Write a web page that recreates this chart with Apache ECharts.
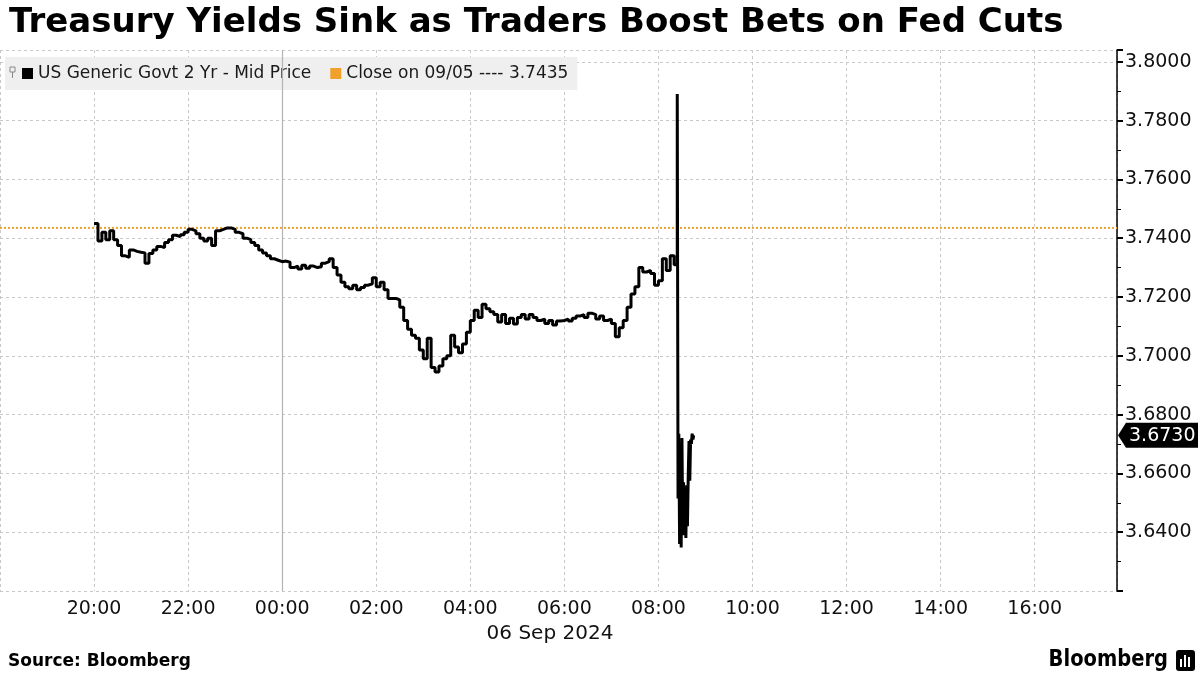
<!DOCTYPE html>
<html><head><meta charset="utf-8">
<script src="https://cdn.jsdelivr.net/npm/echarts@6/dist/echarts.min.js"></script>
<style>html,body{margin:0;padding:0;background:#fff}#c{width:1200px;height:675px}</style>
</head><body><div id="c"></div>
<script>
// ---- data ----
const titleText = 'Treasury Yields Sink as Traders Boost Bets on Fed Cuts';
const seriesName = 'US Generic Govt 2 Yr - Mid Price';
const closeName = 'Close on 09/05 ---- 3.7435';
const closeValue = 3.7435;
const dateLabel = '06 Sep 2024';
const sourceText = 'Source: Bloomberg';
const startClock = 20 * 60;           // axis minutes are counted from 20:00 on 05 Sep
const xMin = -120, xMax = 1305, xInterval = 120;
const yMin = 3.62, yMax = 3.804, yInterval = 0.02;
// 5-minute samples from 20:00 to 08:20
const mainValues = [
 3.7450,3.7390,3.7420,3.7395,3.7425,3.7395,3.7375,3.7340,3.7335,3.7360,
 3.7355,3.7352,3.7350,3.7315,3.7348,3.7360,3.7372,3.7368,3.7385,3.7395,
 3.7410,3.7405,3.7412,3.7420,3.7430,3.7425,3.7415,3.7400,3.7390,3.7400,
 3.7375,3.7425,3.7430,3.7435,3.7435,3.7430,3.7420,3.7415,3.7400,3.7395,
 3.7385,3.7375,3.7360,3.7350,3.7340,3.7330,3.7325,3.7320,3.7322,3.7318,
 3.7300,3.7305,3.7295,3.7308,3.7298,3.7305,3.7300,3.7303,3.7315,3.7320,
 3.7330,3.7300,3.7275,3.7250,3.7235,3.7228,3.7240,3.7225,3.7232,3.7240,
 3.7245,3.7265,3.7235,3.7250,3.7225,3.7195,3.7195,3.7190,3.7165,3.7120,
 3.7090,3.7070,3.7060,3.7020,3.6990,3.7060,3.6960,3.6945,3.6965,3.6990,
 3.7000,3.7070,3.7030,3.7010,3.7040,3.7080,3.7120,3.7155,3.7130,3.7175,
 3.7160,3.7150,3.7140,3.7115,3.7140,3.7110,3.7128,3.7108,3.7130,3.7140,
 3.7125,3.7140,3.7130,3.7120,3.7125,3.7110,3.7120,3.7105,3.7118,3.7120,
 3.7125,3.7118,3.7128,3.7135,3.7140,3.7130,3.7145,3.7140,3.7125,3.7135,
 3.7120,3.7125,3.7110,3.7065,3.7095,3.7120,3.7165,3.7210,3.7235,3.7300,
 3.7285,3.7290,3.7280,3.7240,3.7255,3.7330,3.7290,3.7340,3.7310
];
const mainStep = 5;
// minute-by-minute around the payrolls release
const spikeMinutes = [744,745,746,747,748,749,750,751,752,753,754,755,756,757,758,759,760,761,762,763,764,765];
const spikeValues  = [3.7890,3.6515,3.6735,3.6360,3.6700,3.6348,3.6720,3.6400,3.6570,3.6390,3.6550,3.6380,3.6560,3.6420,3.6590,3.6710,3.6575,3.6715,3.6700,3.6735,3.6715,3.6730];
const midnight = 240;

// ---- build ----
const lineData = mainValues.map((v, i) => [i * mainStep, v])
  .concat(spikeValues.map((v, i) => [spikeMinutes[i], v]));
const lastValue = spikeValues[spikeValues.length - 1];

const FONT = "'DejaVu Sans', Verdana, sans-serif";

function clock(m) {
  let t = ((startClock + m) % 1440 + 1440) % 1440;
  const h = Math.floor(t / 60), mm = Math.round(t % 60);
  return String(h).padStart(2, '0') + ':' + String(mm).padStart(2, '0');
}

const chart = echarts.init(document.getElementById('c'), null, {renderer: 'canvas'});
const baseGraphic = [
  {type: 'text', style: {x: 550, y: 634, text: dateLabel, font: "20px " + FONT, fill: '#111',
                         textAlign: 'center', textVerticalAlign: 'middle'}},
  {type: 'text', style: {x: 8, y: 662, text: sourceText, font: "bold 17px " + FONT, fill: '#000',
                         textVerticalAlign: 'middle'}},
  {type: 'text', x: 1168, y: 660, scaleY: 1.2,
   style: {x: 0, y: 0, text: 'Bloomberg', font: "bold 19.5px " + FONT, fill: '#000',
           textAlign: 'right', textVerticalAlign: 'middle'}},
  {type: 'rect', shape: {x: 1176, y: 650, width: 19, height: 21, r: 3}, style: {fill: '#000'}},
  {type: 'rect', shape: {x: 1180, y: 659, width: 2, height: 8}, style: {fill: '#fff'}},
  {type: 'rect', shape: {x: 1184, y: 655, width: 2, height: 12}, style: {fill: '#fff'}},
  {type: 'rect', shape: {x: 1188, y: 657, width: 2, height: 10}, style: {fill: '#fff'}},
  // small glyph at the start of the legend
  {type: 'rect', z: 100, shape: {x: 10, y: 67, width: 5, height: 5}, style: {fill: 'none', stroke: '#888', lineWidth: 1}},
  {type: 'line', z: 100, shape: {x1: 12.5, y1: 72, x2: 12.5, y2: 78}, style: {stroke: '#888', lineWidth: 1}}
];
const option = {
  animation: false,
  backgroundColor: '#fff',
  grid: {left: 0, right: 83, top: 50, bottom: 84, containLabel: false, outerBoundsMode: 'none'},
  title: {
    text: titleText, left: 4, top: 1,
    textStyle: {fontFamily: FONT, fontWeight: 'bold', fontSize: 34, color: '#000'}
  },
  legend: {
    left: 5, top: 57, padding: [8, 9, 8, 17], backgroundColor: '#efefef',
    itemWidth: 11, itemHeight: 11, itemGap: 19, icon: 'rect',
    textStyle: {fontFamily: FONT, fontSize: 17, color: '#1a1a1a'},
    data: [seriesName, closeName]
  },
  xAxis: {
    type: 'value', min: xMin, max: xMax, interval: xInterval,
    axisLine: {show: false}, axisTick: {show: false},
    axisLabel: {
      showMinLabel: false, showMaxLabel: false, margin: 9,
      fontFamily: FONT, fontSize: 19, color: '#111',
      formatter: v => clock(v)
    },
    splitLine: {show: true, lineStyle: {color: '#c8c8c8', type: [3, 3], width: 1}}
  },
  yAxis: {
    type: 'value', position: 'right', min: yMin, max: yMax, interval: yInterval,
    axisLine: {show: true, onZero: false, lineStyle: {color: '#000', width: 1.5}},
    axisTick: {show: true, length: 6, lineStyle: {color: '#000', width: 2}},
    minorTick: {show: true, splitNumber: 2, length: 4, lineStyle: {color: '#000', width: 1}},
    axisLabel: {
      showMinLabel: false, showMaxLabel: false, margin: 8, fontFamily: FONT, fontSize: 19, color: '#111',
      formatter: v => v.toFixed(4)
    },
    splitLine: {show: true, lineStyle: {color: '#c8c8c8', type: [3, 3], width: 1}}
  },
  series: [
    {
      name: seriesName, type: 'line', step: 'end', data: lineData,
      symbol: 'none', color: '#000', z: 5,
      lineStyle: {color: '#000', width: 3},
      markLine: {
        silent: true, symbol: ['none', 'none'],
        data: [
          {xAxis: midnight, lineStyle: {color: '#b4b4b4', type: 'solid', width: 1.2}, label: {show: false}}
        ]
      }
    },
    {
      name: closeName, type: 'line', data: [[xMin, closeValue], [xMax, closeValue]],
      symbol: 'none', color: '#f0a12c', z: 3,
      lineStyle: {color: '#f0a12c', type: [2, 2], width: 2}
    }
  ],
  graphic: baseGraphic
};
chart.setOption(option);

// last-value tag on the axis, placed through the axis scales
const py = chart.convertToPixel({yAxisIndex: 0}, lastValue);
const px = chart.convertToPixel({xAxisIndex: 0}, xMax);
chart.setOption({graphic: baseGraphic.concat([
  {type: 'polygon', z: 100, shape: {points: [[px + 1, py], [px + 9, py - 12.5], [px + 9, py + 12.5]]}, style: {fill: '#000'}},
  {type: 'rect', z: 100, shape: {x: px + 9, y: py - 12.5, width: 72, height: 25}, style: {fill: '#000'}},
  {type: 'text', z: 101, style: {x: px + 12, y: py + 1, text: lastValue.toFixed(4), font: "19px " + FONT,
                                 fill: '#fff', textVerticalAlign: 'middle'}}
])});
</script></body></html>
